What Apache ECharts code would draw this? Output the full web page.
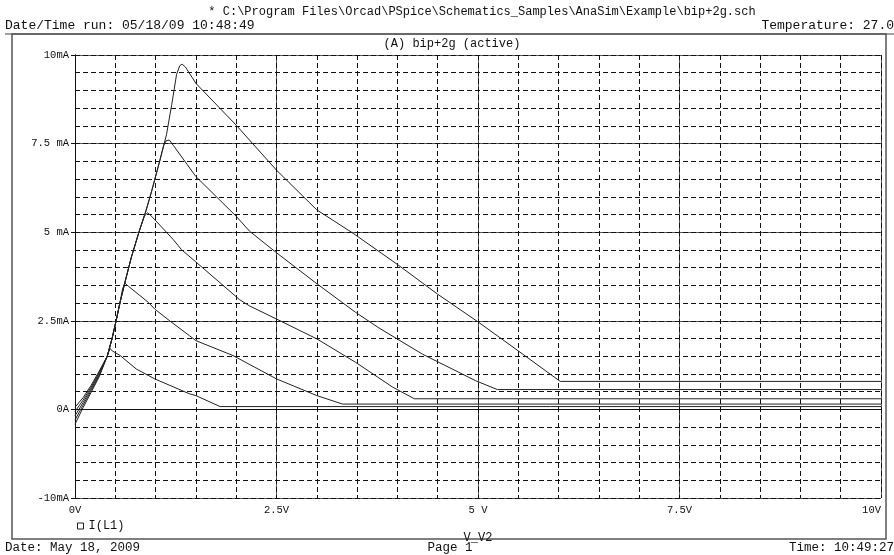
<!DOCTYPE html>
<html>
<head>
<meta charset="utf-8">
<script src="https://cdn.jsdelivr.net/npm/echarts@6/dist/echarts.min.js"></script>
<style>
  html, body { margin: 0; padding: 0; background: #fff; }
  #chartLine1 { width: 894px; height: 555px; }
</style>
</head>
<body>
<div id="chartLine1"></div>
<script>
'use strict'

/************************ DATA *************************/
// I(L1) [V_V2 (V), current (mA)] for each stepped run
var curve1 = [[0, -0.42], [0.1, 0.05], [0.2, 0.48], [0.3, 0.92], [0.4, 1.5], [0.433, 1.72], [0.47, 1.64],
  [0.56, 1.52], [0.76, 1.14], [0.99, 0.86], [1.42, 0.44], [1.5, 0.39], [1.8, 0.08], [10, 0.08]];
var curve2 = [[0, -0.3], [0.1, 0.12], [0.2, 0.53], [0.3, 0.96], [0.4, 1.5], [0.46, 2.0], [0.51, 2.5],
  [0.557, 3.0], [0.59, 3.4], [0.62, 3.56], [0.66, 3.48], [0.91, 3.02], [0.99, 2.83], [1.18, 2.49],
  [1.42, 2.08], [1.5, 1.94], [1.96, 1.52], [2.5, 0.86], [3.0, 0.39], [3.32, 0.15], [10, 0.15]];
var curve3 = [[0, -0.18], [0.1, 0.19], [0.2, 0.58], [0.3, 1.0], [0.4, 1.5], [0.46, 2.0], [0.51, 2.5],
  [0.557, 3.0], [0.61, 3.5], [0.7, 4.3], [0.8, 5.05], [0.86, 5.45], [0.9, 5.55], [0.95, 5.45],
  [1.22, 4.79], [1.32, 4.51], [1.5, 4.16], [1.75, 3.67], [2.04, 3.1], [2.165, 2.92], [2.5, 2.55],
  [3.0, 1.99], [3.48, 1.33], [3.94, 0.63], [4.21, 0.3], [10, 0.3]];
var curve4 = [[0, -0.06], [0.1, 0.26], [0.2, 0.63], [0.3, 1.04], [0.4, 1.5], [0.46, 2.0], [0.51, 2.5],
  [0.557, 3.0], [0.61, 3.5], [0.7, 4.3], [0.8, 5.05], [0.88, 5.6], [0.95, 6.15], [1.05, 7.0],
  [1.1, 7.45], [1.13, 7.58], [1.17, 7.6], [1.22, 7.45], [1.5, 6.57], [2.0, 5.45], [2.165, 5.03],
  [2.5, 4.42], [3.01, 3.53], [3.48, 2.74], [3.77, 2.3], [4.31, 1.56], [4.97, 0.81], [5.24, 0.56], [10, 0.56]];
var curve5 = [[0, 0.06], [0.1, 0.33], [0.2, 0.68], [0.3, 1.08], [0.4, 1.5], [0.46, 2.0], [0.51, 2.5],
  [0.557, 3.0], [0.61, 3.5], [0.7, 4.3], [0.8, 5.05], [0.88, 5.6], [0.95, 6.15], [1.05, 7.0],
  [1.135, 7.75], [1.2, 8.6], [1.26, 9.45], [1.3, 9.7], [1.33, 9.74], [1.37, 9.66], [1.5, 9.2],
  [2.0, 8.02], [2.165, 7.6], [2.5, 6.75], [3.0, 5.63], [3.45, 4.97], [4.0, 4.09], [4.5, 3.25],
  [5.0, 2.47], [5.5, 1.65], [6.02, 0.79], [10, 0.79]];

var curves = [curve1, curve2, curve3, curve4, curve5];

var xTickValues = [0, 2.5, 5, 7.5, 10];
var xTickLabels = ['0V', '2.5V', '5 V', '7.5V', '10V'];
var yTickValues = [-2.5, 0, 2.5, 5, 7.5, 10];
var yTickLabels = ['-10mA', '0A', '2.5mA', '5 mA', '7.5 mA', '10mA'];

var FONT = 'Liberation Mono';

/************************ CHART *************************/
var chart = document.getElementById('chartLine1');
var lineChart = echarts.init(chart);

var series = curves.map(function(c) {
  return {
    name: 'I(L1)',
    type: 'line',
    data: c,
    showSymbol: false,
    symbol: 'none',
    xAxisIndex: 0,
    yAxisIndex: 0,
    lineStyle: { color: '#222', width: 1 },
    itemStyle: { color: '#222' },
    z: 5
  };
});

function pick(values, labels) {
  return function(v) {
    var i = values.indexOf(v);
    return i >= 0 ? labels[i] : '';
  };
}

function headerText(text, x, y, align, size) {
  return {
    type: 'text',
    x: x,
    y: y,
    style: {
      text: text,
      font: (size || 12) + 'px "' + FONT + '"',
      fill: '#111',
      align: align,
      verticalAlign: 'middle'
    }
  };
}

var option = {
  animation: false,
  backgroundColor: '#fff',
  grid: {
    top: 55,
    right: 13,
    bottom: 57,
    left: 75,
    outerBoundsMode: 'none'
  },
  legend: {
    data: [{ name: 'I(L1)', icon: 'rect', itemStyle: { color: '#fff', borderColor: '#222', borderWidth: 1 } }],
    left: 72,
    top: 515,
    itemWidth: 6,
    itemHeight: 6,
    itemGap: 4,
    textStyle: { fontFamily: FONT, fontSize: 12, color: '#111' }
  },
  xAxis: [
    {
      type: 'value',
      min: 0,
      max: 10,
      interval: 2.5,
      position: 'bottom',
      name: 'V_V2',
      nameLocation: 'middle',
      nameGap: 34,
      nameTextStyle: { fontFamily: FONT, fontSize: 12, color: '#111' },
      axisLine: { show: true, lineStyle: { color: '#111', width: 1 } },
      axisTick: { show: true, length: 4, lineStyle: { color: '#111' } },
      axisLabel: {
        fontFamily: FONT,
        fontSize: 10.5,
        color: '#111',
        margin: 7,
        alignMaxLabel: 'right',
        formatter: pick(xTickValues, xTickLabels)
      },
      splitLine: { show: true, lineStyle: { color: '#555', width: 1, type: 'solid' } }
    },
    {
      type: 'value',
      min: 0,
      max: 10,
      interval: 0.5,
      position: 'top',
      axisLine: { show: true, lineStyle: { color: '#111', width: 1 } },
      axisTick: { show: false },
      axisLabel: { show: false },
      splitLine: { show: true, lineStyle: { color: '#111', width: 1, type: [5, 3] } }
    }
  ],
  yAxis: [
    {
      type: 'value',
      min: -2.5,
      max: 10,
      interval: 2.5,
      position: 'left',
      axisLine: { show: true, lineStyle: { color: '#111', width: 1 } },
      axisTick: { show: true, length: 4, lineStyle: { color: '#111' } },
      axisLabel: {
        fontFamily: FONT,
        fontSize: 10.5,
        color: '#111',
        margin: 6,
        formatter: pick(yTickValues, yTickLabels)
      },
      splitLine: { show: true, lineStyle: { color: '#555', width: 1, type: 'solid' } }
    },
    {
      type: 'value',
      min: -2.5,
      max: 10,
      interval: 0.5,
      position: 'right',
      axisLine: { show: true, lineStyle: { color: '#111', width: 1 } },
      axisTick: { show: false },
      axisLabel: { show: false },
      splitLine: { show: true, lineStyle: { color: '#111', width: 1, type: [5, 3] } }
    }
  ],
  graphic: [
    headerText('* C:\\Program Files\\Orcad\\PSpice\\Schematics_Samples\\AnaSim\\Example\\bip+2g.sch', 482, 12, 'center', 12),
    headerText('Date/Time run: 05/18/09 10:48:49', 5, 26, 'left', 13),
    headerText('Temperature: 27.0', 894, 26, 'right', 13),
    {
      type: 'line',
      shape: { x1: 5, y1: 34, x2: 894, y2: 34 },
      style: { stroke: '#444', lineWidth: 1 }
    },
    {
      type: 'rect',
      shape: { x: 12, y: 34, width: 874, height: 505 },
      style: { fill: null, stroke: '#555', lineWidth: 1.5 }
    },
    headerText('(A) bip+2g (active)', 452, 44, 'center', 12),
    headerText('Date: May 18, 2009', 5, 548, 'left', 12.5),
    headerText('Page 1', 450, 548, 'center', 12.5),
    headerText('Time: 10:49:27', 894, 548, 'right', 12.5)
  ],
  series: series
};

lineChart.setOption(option);
</script>
</body>
</html>
